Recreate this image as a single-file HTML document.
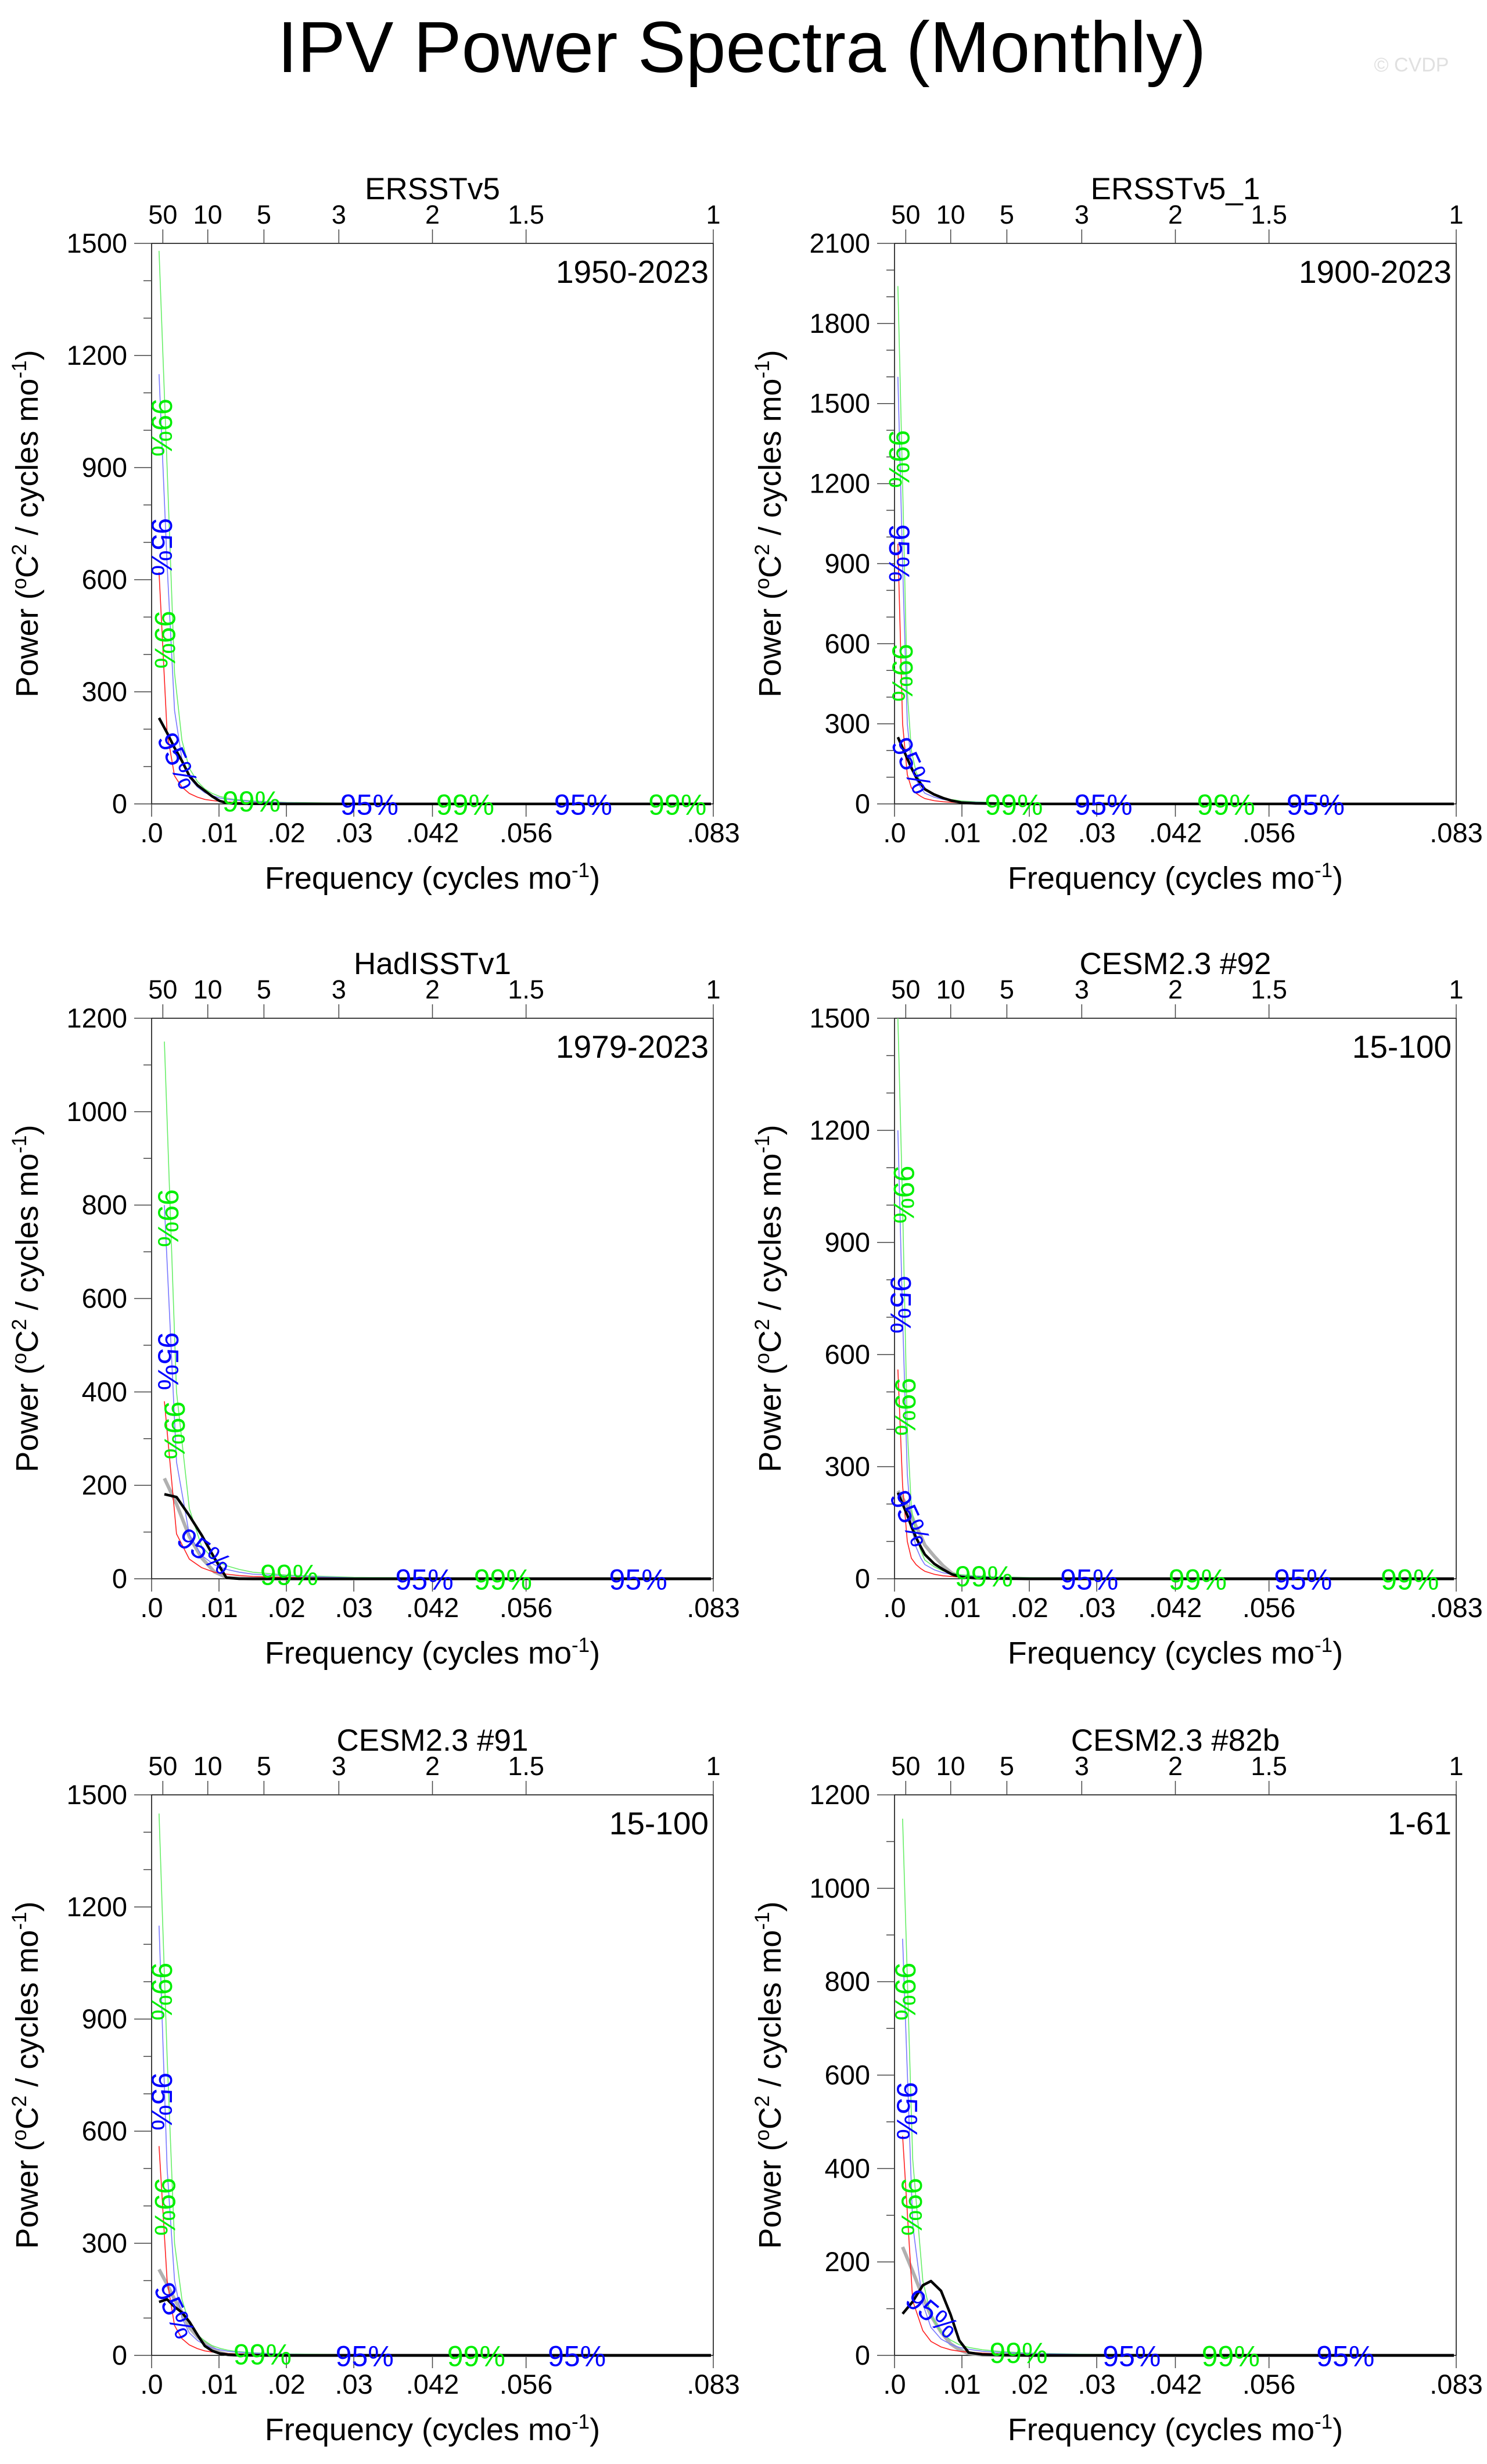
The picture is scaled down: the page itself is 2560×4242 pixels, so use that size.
<!DOCTYPE html>
<html><head><meta charset="utf-8"><style>
html,body{margin:0;padding:0;background:#fff;}
svg{display:block;font-family:"Liberation Sans",sans-serif;}
</style></head><body>
<svg id="fig" width="2560" height="4242" viewBox="0 0 2560 4242" xmlns="http://www.w3.org/2000/svg">
<text x="1277" y="124" font-size="124" text-anchor="middle">IPV Power Spectra (Monthly)</text>
<text x="2430" y="123" font-size="34" fill="#e0e0e0" text-anchor="middle">© CVDP</text>
</svg>
<script>
// Panel 1 ERSSTv5
const p1Freq=[.0011,.0023,.0034,.0045,.0056,.0068,.0079,.009,.0101,.0113,.0124,.015,.02,.03,.05,.083];
const p1Black=[230,190,150,115,75,50,35,20,8,2,1,.5,0,0,0,0];
const p1Red=[620,190,75,45,28,18,12,9,7,5,4,3,1.5,.5,.2,.1];
const p1Blue=[1150,640,250,120,70,45,30,22,16,12,10,6,3,1,.4,.2];
const p1Green=[1480,900,350,170,95,60,40,28,20,15,12,8,4,1.5,.5,.3];
// Panel 2 ERSSTv5_1
const p2Freq=[.0005,.0012,.0019,.0025,.0032,.0039,.0045,.0059,.0072,.0085,.0099,.012,.015,.02,.03,.05,.083];
const p2Black=[250,210,170,135,100,75,55,35,22,12,5,2,1,0,0,0,0];
const p2Red=[975,300,110,60,40,28,20,12,8,6,4,3,2,1,.5,.2,.1];
const p2Blue=[1600,900,300,150,90,60,40,25,17,12,8,6,4,2,1,.4,.2];
const p2Green=[1940,1200,420,200,120,80,55,35,22,16,11,8,5,3,1.5,.5,.3];
// Panel 3 HadISSTv1
const p3Freq=[.0019,.0037,.0056,.0074,.0093,.0111,.013,.015,.02,.03,.05,.083];
const p3Black=[181,175,135,94,45,2,0,0,0,0,0,0];
const p3Red=[380,96,42,24,14,10,7,5,3,1,.3,.1];
const p3Blue=[800,250,94,50,30,20,14,10,6,2,.5,.2];
const p3Green=[1150,400,150,70,40,28,20,14,8,3,.8,.3];
const p3Grey=[215,160,90,45,15,3,1,0,0,0,0,0];
// Panel 4 CESM2.3 #92
const p4Freq=[.0005,.0012,.0019,.0025,.0032,.0039,.0045,.0059,.0072,.0085,.0099,.012,.015,.02,.03,.05,.083];
const p4Black=[230,200,170,140,110,85,65,40,25,12,5,2,1,0,0,0,0];
const p4Red=[560,250,100,55,38,27,20,12,8,6,4,3,2,1,.5,.2,.1];
const p4Blue=[1200,700,280,140,85,55,38,24,16,12,8,6,4,2,1,.4,.2];
const p4Green=[1500,1000,400,190,115,75,50,32,21,15,11,8,5,3,1.5,.5,.3];
const p4Grey=[235,215,195,170,140,115,90,60,35,15,5,2,1,0,0,0,0];
// Panel 5 CESM2.3 #91
const p5Freq=[.0011,.0023,.0034,.0045,.0056,.0068,.0079,.009,.0101,.0113,.0124,.015,.02,.03,.05,.083];
const p5Black=[143,150,130,115,90,55,25,12,5,2,1,.5,0,0,0,0];
const p5Red=[560,200,80,45,28,18,12,9,7,5,4,3,1.5,.5,.2,.1];
const p5Blue=[1150,500,200,100,60,40,28,20,15,11,9,6,3,1,.4,.2];
const p5Green=[1450,800,300,150,85,55,38,26,19,14,11,7,4,1.5,.5,.3];
const p5Grey=[230,190,150,115,75,50,35,20,8,2,1,.5,0,0,0,0];
// Panel 6 CESM2.3 #82b
const p6Freq=[.0012,.0027,.0042,.0054,.0069,.0083,.0096,.011,.013,.016,.02,.03,.05,.083];
const p6Black=[89,115,150,159,138,88,32,6,2,1,0,0,0,0];
const p6Red=[470,117,53,30,18,12,9,7,5,3,2,.8,.3,.1];
const p6Blue=[892,280,110,60,35,24,17,13,9,6,4,1.5,.5,.2];
const p6Green=[1149,420,160,85,50,33,23,17,12,8,5,2,.6,.3];
const p6Grey=[232,180,125,85,50,25,12,4,1,0,0,0,0,0];

const xTickVals=[0,.01,.02,.03,1/24,1/18,1/12];
const xTickLabels=[".0",".01",".02",".03",".042",".056",".083"];
const periodVals=[50,10,5,3,2,1.5,1];
const periodLabels=["50","10","5","3","2","1.5","1"];

const panels=[
 {title:"ERSSTv5",period:"1950-2023",L:261,T:419,ymax:1500,step:300,minor:100,f:p1Freq,black:p1Black,red:p1Red,blue:p1Blue,green:p1Green,grey:null,
  lab:[["g",103,272,90],["b",103,348,90],["g",105,407,90],["b",113,484,65],["g",160,510,0],["b",235,512,0],["g",296,512,0],["b",371,512,0],["g",431,512,0]]},
 {title:"ERSSTv5_1",period:"1900-2023",L:1540,T:419,ymax:2100,step:300,minor:100,f:p2Freq,black:p2Black,red:p2Red,blue:p2Blue,green:p2Green,grey:null,
  lab:[["g",572,292,90],["b",572,352,90],["g",574,428,90],["b",580,487,65],["g",645,512,0],["b",702,512,0],["g",780,512,0],["b",837,512,0]]},
 {title:"HadISSTv1",period:"1979-2023",L:261,T:1753,ymax:1200,step:200,minor:100,f:p3Freq,black:p3Black,red:p3Red,blue:p3Blue,green:p3Green,grey:p3Grey,
  lab:[["g",107,775,90],["b",107,866,90],["g",111,910,90],["b",130,987,35],["g",184,1002,0],["b",270,1005,0],["g",320,1005,0],["b",406,1005,0]]},
 {title:"CESM2.3 #92",period:"15-100",L:1540,T:1753,ymax:1500,step:300,minor:100,f:p4Freq,black:p4Black,red:p4Red,blue:p4Blue,green:p4Green,grey:p4Grey,
  lab:[["g",575,760,90],["b",573,830,90],["g",576,895,90],["b",579,966,65],["g",626,1003,0],["b",693,1005,0],["g",762,1005,0],["b",829,1005,0],["g",897,1005,0]]},
 {title:"CESM2.3 #91",period:"15-100",L:261,T:3090,ymax:1500,step:300,minor:100,f:p5Freq,black:p5Black,red:p5Red,blue:p5Blue,green:p5Green,grey:p5Grey,
  lab:[["g",103,1267,90],["b",103,1337,90],["g",105,1404,90],["b",111,1470,65],["g",167,1498,0],["b",232,1499,0],["g",303,1499,0],["b",367,1499,0]]},
 {title:"CESM2.3 #82b",period:"1-61",L:1540,T:3090,ymax:1200,step:200,minor:100,f:p6Freq,black:p6Black,red:p6Red,blue:p6Blue,green:p6Green,grey:p6Grey,
  lab:[["g",576,1267,90],["b",577,1343,90],["g",580,1404,90],["b",593,1472,40],["g",648,1497,0],["b",720,1499,0],["g",783,1499,0],["b",856,1499,0]]}
];
const W=967,H=965,S=2.706;
const NS="http://www.w3.org/2000/svg";
const svg=document.getElementById('fig');
function mk(tag,attrs,parent,txt){const e=document.createElementNS(NS,tag);for(const k in attrs)e.setAttribute(k,attrs[k]);if(txt!==undefined)e.textContent=txt;parent.appendChild(e);return e;}

panels.forEach((p,i)=>{
 const g=mk('g',{},svg);
 
 
 const X=f=>p.L+f/(1/12)*W;
 const Y=v=>p.T+H-v/p.ymax*H;
 const B=p.T+H;
 const fr=mk('rect',{x:p.L,y:p.T,width:W,height:H,fill:'none',stroke:'#000','stroke-width':1.5},g);
 
 
 for(let v=0;v<=p.ymax;v+=p.minor){
  const major=(v%p.step===0);
  const t=mk('line',{x1:p.L-(major?30:14),x2:p.L,y1:Y(v),y2:Y(v),stroke:'#444','stroke-width':1.5},g);
  
  
  if(major){
   const tl=mk('text',{x:p.L-42,y:Y(v)+16,'font-size':47,'text-anchor':'end'},g,String(v));
   
   
  }
 }
 xTickVals.forEach((v,k)=>{
  const t=mk('line',{x1:X(v),x2:X(v),y1:B,y2:B+22,stroke:'#444','stroke-width':1.5},g);
  
  
  const tl=mk('text',{x:X(v),y:B+66,'font-size':47,'text-anchor':'middle'},g,xTickLabels[k]);
  
  
 });
 periodVals.forEach((yr,k)=>{
  const fx=X(1/(12*yr));
  const t=mk('line',{x1:fx,x2:fx,y1:p.T,y2:p.T-24,stroke:'#444','stroke-width':1.5},g);
  
  
  const tl=mk('text',{x:fx,y:p.T-34,'font-size':45,'text-anchor':'middle'},g,periodLabels[k]);
  
  
 });
 const tt=mk('text',{x:p.L+W/2,y:p.T-76,'font-size':53,'text-anchor':'middle'},g,p.title);
 
 
 const pr=mk('text',{x:p.L+W-8,y:p.T+68,'font-size':55,'text-anchor':'end'},g,p.period);
 
 
 const xt=mk('text',{x:p.L+W/2,y:B+146,'font-size':54,'text-anchor':'middle'},g);
 
 
 xt.innerHTML='Frequency (cycles mo<tspan dy="-20" font-size="35">-1</tspan><tspan dy="20">)</tspan>';
 const yx=p.L-196, yc=p.T+H/2;
 const yt=mk('text',{x:yx,y:yc,'font-size':54,'text-anchor':'middle',transform:`rotate(-90 ${yx} ${yc})`},g);
 
 
 yt.innerHTML='Power (<tspan dy="-20" font-size="35">o</tspan><tspan dy="20">C</tspan><tspan dy="-20" font-size="35">2</tspan><tspan dy="20"> / cycles mo</tspan><tspan dy="-20" font-size="35">-1</tspan><tspan dy="20">)</tspan>';
 const line=(arr,color,w,name)=>{
  const pts=arr.map((v,k)=>X(p.f[k]).toFixed(1)+','+Y(v).toFixed(1)).join(' ');
  const pl=mk('polyline',{points:pts,fill:'none',stroke:color,'stroke-width':w,'stroke-linejoin':'round'},g);
  
  
 };
 if(p.grey) line(p.grey,'#b0b0b0',6,'reference-spectrum-line');
 line(p.green,'#66ee66',1.6,'99-percent-line');
 line(p.blue,'#7777ff',1.6,'95-percent-line');
 line(p.red,'#ff2020',1.6,'red-noise-line');
 line(p.black,'#000',4.5,'spectrum-line');
 p.lab.forEach(l=>{
  const x=l[1]*S, y=l[2]*S;
  const t=mk('text',{x:x,y:y+17,'font-size':50,'text-anchor':'middle',fill:l[0]==='g'?'#00ee00':'#0000ff',transform:`rotate(${l[3]} ${x} ${y})`},g,l[0]==='g'?'99%':'95%');
  
  
 });
});
</script>
</body></html>
